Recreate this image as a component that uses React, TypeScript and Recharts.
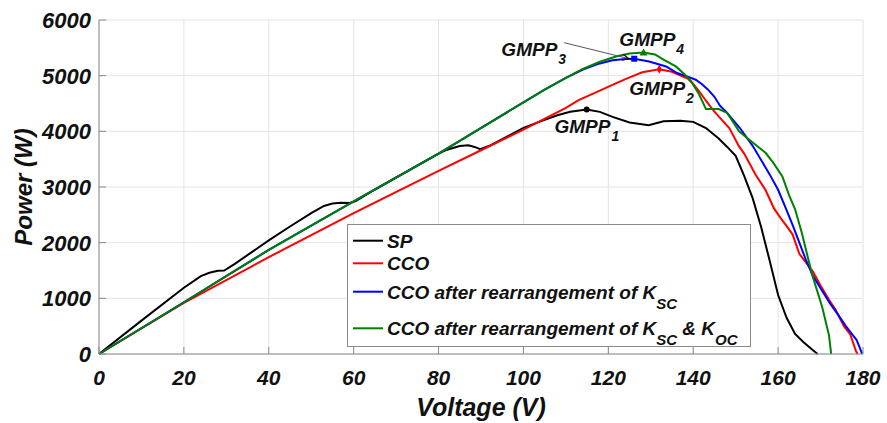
import React from 'react';
import { LineChart, Line, XAxis, YAxis, CartesianGrid, ReferenceDot, ReferenceLine, Legend } from 'recharts';

const xTicks = [0, 20, 40, 60, 80, 100, 120, 140, 160, 180];
const yTicks = [0, 1000, 2000, 3000, 4000, 5000, 6000];

// SP
const spV = [0, 10, 20, 24, 26, 28, 29.5, 32, 36, 40, 45, 50, 53, 55, 57, 59, 60.5, 65, 70, 75, 80, 82, 85, 87, 88.5, 89.8, 92, 96, 100, 104, 108, 111, 114.9, 118, 121, 125, 129.5, 133, 137, 140, 143, 146, 148, 150, 152, 154, 156, 158, 160, 162, 164, 166, 168, 169.3];
const spP = [0, 600, 1190, 1400, 1460, 1495, 1500, 1620, 1830, 2040, 2290, 2530, 2660, 2705, 2715, 2712, 2745, 2955, 3170, 3385, 3600, 3670, 3735, 3750, 3720, 3680, 3740, 3900, 4060, 4180, 4290, 4350, 4390, 4350, 4260, 4160, 4110, 4180, 4190, 4170, 4060, 3870, 3720, 3560, 3200, 2800, 2280, 1680, 1060, 650, 360, 210, 80, 0];

// CCO
const ccoV = [0, 20, 40, 60, 80, 90, 100, 110, 113, 118, 122, 125, 128, 132, 135, 137, 138.7, 140, 141.4, 143, 144.5, 146.1, 148.5, 150.8, 152, 154.7, 157, 159, 160.5, 161.8, 163.4, 165, 167.3, 168.2, 170, 172, 173.5, 175.5, 177, 178.3, 178.7];
const ccoP = [0, 920, 1740, 2530, 3290, 3660, 4030, 4420, 4560, 4730, 4870, 4970, 5060, 5115, 5070, 5000, 4950, 4850, 4720, 4550, 4400, 4260, 4060, 3730, 3600, 3220, 2950, 2620, 2450, 2320, 2150, 1800, 1570, 1480, 1230, 975, 800, 500, 350, 60, 0];

// CCO after rearrangement of Ksc
const kscV = [0, 20, 40, 60, 80, 100, 105, 110, 114, 118, 121, 124, 126.1, 129.6, 133.6, 136.2, 138, 140.6, 142, 143.5, 145, 146.3, 148, 149.2, 151, 154, 157.9, 160, 161.8, 163.5, 165, 166.5, 168.1, 170, 172.3, 174, 176, 177.5, 178.5, 179.3, 179.8];
const kscP = [0, 930, 1870, 2740, 3600, 4520, 4750, 4960, 5110, 5220, 5275, 5298, 5304, 5256, 5166, 5047, 5000, 4927, 4850, 4748, 4620, 4460, 4330, 4220, 4060, 3740, 3240, 2950, 2620, 2300, 2000, 1700, 1420, 1180, 900, 720, 496, 350, 250, 100, 0];

// CCO after rearrangement of Ksc & Koc
const kocV = [0, 20, 40, 60, 80, 100, 105, 110, 114, 118, 122, 125, 128.3, 131, 133, 135.9, 138, 139.5, 141.4, 143, 146, 148, 150.8, 153.2, 157.1, 159, 161, 162.6, 164, 165.5, 168, 170.4, 172, 172.5];
const kocP = [0, 930, 1870, 2740, 3600, 4520, 4750, 4960, 5120, 5250, 5350, 5400, 5418, 5380, 5290, 5166, 5020, 4900, 4660, 4400, 4400, 4330, 4000, 3850, 3610, 3420, 3190, 2850, 2600, 2200, 1430, 840, 330, 0];

// GMPP 1..4 (voltage, power)
const gmppV = [114.9, 132, 126.1, 128.3];
const gmppP = [4390, 5115, 5304, 5418];

const toPoints = (v: number[], p: number[]) => v.map((x, i) => ({ v: x, p: p[i] }));

const FONT = '"Liberation Sans", Arial, Helvetica, sans-serif';
const AXIS = '#8a8a8a';
const GRID = '#e4e4e4';
const INK = '#111';
const TICK_LEN = 7;

function BottomTick(props: any) {
  const { x, y, payload } = props;
  return (
    <g>
      <line x1={x} x2={x} y1={y} y2={y - TICK_LEN} stroke={AXIS} />
      <text x={x} y={y + 31} textAnchor="middle" fontFamily={FONT} fontSize={21} fontWeight="bold" fontStyle="italic" fill={INK}>
        {payload.value}
      </text>
    </g>
  );
}

function TopTick(props: any) {
  const { x, y } = props;
  return <line x1={x} x2={x} y1={y} y2={y + TICK_LEN} stroke={AXIS} />;
}

function LeftTick(props: any) {
  const { x, y, payload } = props;
  return (
    <g>
      <line x1={x} x2={x + TICK_LEN} y1={y} y2={y} stroke={AXIS} />
      <text x={x - 8} y={y + 8} textAnchor="end" fontFamily={FONT} fontSize={22} fontWeight="bold" fontStyle="italic" fill={INK}>
        {payload.value}
      </text>
    </g>
  );
}

function RightTick(props: any) {
  const { x, y } = props;
  return <line x1={x} x2={x - TICK_LEN} y1={y} y2={y} stroke={AXIS} />;
}

const GmppLabel = (n: string) => (p: any) => (
  <text x={p.cx} y={p.cy} fontFamily={FONT} fontSize={19} fontWeight="bold" fontStyle="italic" fill={INK}>
    <tspan>GMPP</tspan>
    <tspan dx={1} dy={8} fontSize={14}>{n}</tspan>
  </text>
);

const Arrow = (p: any) => {
  const { x1, y1, x2, y2 } = p;
  const a = Math.atan2(y2 - y1, x2 - x1);
  const h = 7;
  return (
    <g>
      <line x1={x1} y1={y1} x2={x2} y2={y2} stroke="#555" strokeWidth={1} />
      <polyline
        points={`${x2 - h * Math.cos(a - 0.45)},${y2 - h * Math.sin(a - 0.45)} ${x2},${y2} ${x2 - h * Math.cos(a + 0.45)},${y2 - h * Math.sin(a + 0.45)}`}
        fill="none"
        stroke="#111"
        strokeWidth={1.3}
      />
    </g>
  );
};

function LegendBox() {
  const t = { fontFamily: FONT, fontSize: 19, fontWeight: 'bold' as const, fontStyle: 'italic' as const, fill: INK };
  const rows = [
    { c: '#000000', y: 16.7 },
    { c: '#ff0000', y: 39.3 },
    { c: '#0000ff', y: 67.7 },
    { c: '#008000', y: 104.3 },
  ];
  return (
    <svg width={405} height={124} style={{ display: 'block' }}>
      <rect x={0.5} y={0.5} width={403} height={122} fill="#fff" stroke={AXIS} />
      {rows.map((r) => (
        <line key={r.c} x1={6} x2={36} y1={r.y} y2={r.y} stroke={r.c} strokeWidth={2} />
      ))}
      <text x={40} y={rows[0].y + 7} {...t}>SP</text>
      <text x={40} y={rows[1].y + 7} {...t}>CCO</text>
      <text x={40} y={rows[2].y + 7} {...t}>
        <tspan>CCO after rearrangement of K</tspan>
        <tspan dy={10} fontSize={15}>SC</tspan>
      </text>
      <text x={40} y={rows[3].y + 7} {...t}>
        <tspan>CCO after rearrangement of K</tspan>
        <tspan dy={10} fontSize={15}>SC</tspan>
        <tspan dy={-10}> &amp; K</tspan>
        <tspan dy={10} fontSize={15}>OC</tspan>
      </text>
    </svg>
  );
}

export default function App() {
  const marker = [
    (p: any) => <circle cx={p.cx} cy={p.cy} r={3} fill="#000" />,
    (p: any) => <polygon points={`${p.cx},${p.cy - 4.5} ${p.cx + 2.5},${p.cy} ${p.cx},${p.cy + 4.5} ${p.cx - 2.5},${p.cy}`} fill="#ff0000" />,
    (p: any) => <rect x={p.cx - 3} y={p.cy - 3} width={6} height={6} fill="#0000ff" />,
    (p: any) => <polygon points={`${p.cx},${p.cy - 4} ${p.cx + 4},${p.cy + 3} ${p.cx - 4},${p.cy + 3}`} fill="#008000" />,
  ];
  return (
    <div style={{ position: 'absolute', left: 0, top: 0, width: 887, height: 423, background: '#fff' }}>
      <LineChart width={887} height={423} margin={{ top: 20, right: 24, bottom: 0, left: 0 }}>
        <CartesianGrid stroke={GRID} strokeWidth={1} />
        <XAxis
          dataKey="v"
          type="number"
          domain={[0, 180]}
          ticks={xTicks}
          interval={0}
          height={69}
          tickSize={0}
          tickMargin={0}
          tickLine={false}
          axisLine={{ stroke: AXIS }}
          tick={(p: any) => <BottomTick {...p} />}
          label={{
            content: (lp: any) => {
              const vb = lp.viewBox;
              return (
                <text x={vb.x + vb.width / 2} y={vb.y + 62} textAnchor="middle" fontFamily={FONT} fontSize={25} fontWeight="bold" fontStyle="italic" fill={INK}>
                  Voltage (V)
                </text>
              );
            },
          }}
        />
        <XAxis
          xAxisId="top"
          orientation="top"
          type="number"
          domain={[0, 180]}
          ticks={xTicks}
          interval={0}
          height={0}
          tickSize={0}
          tickMargin={0}
          tickLine={false}
          axisLine={{ stroke: AXIS }}
          tick={(p: any) => <TopTick {...p} />}
        />
        <YAxis
          type="number"
          domain={[0, 6000]}
          ticks={yTicks}
          interval={0}
          width={99}
          tickSize={0}
          tickMargin={0}
          tickLine={false}
          axisLine={{ stroke: AXIS }}
          tick={(p: any) => <LeftTick {...p} />}
          label={{
            content: (lp: any) => {
              const vb = lp.viewBox;
              const cy = vb.y + vb.height / 2;
              return (
                <text transform={`translate(32, ${cy}) rotate(-90)`} textAnchor="middle" fontFamily={FONT} fontSize={24} fontWeight="bold" fontStyle="italic" fill={INK}>
                  Power (W)
                </text>
              );
            },
          }}
        />
        <YAxis
          yAxisId="right"
          orientation="right"
          type="number"
          domain={[0, 6000]}
          ticks={yTicks}
          interval={0}
          width={0}
          tickSize={0}
          tickMargin={0}
          tickLine={false}
          axisLine={{ stroke: AXIS }}
          tick={(p: any) => <RightTick {...p} />}
        />
        <Line data={toPoints(spV, spP)} dataKey="p" stroke="#000000" strokeWidth={2} dot={false} isAnimationActive={false} />
        <Line data={toPoints(ccoV, ccoP)} dataKey="p" stroke="#ff0000" strokeWidth={2} dot={false} isAnimationActive={false} />
        <Line data={toPoints(kscV, kscP)} dataKey="p" stroke="#0000ff" strokeWidth={2} dot={false} isAnimationActive={false} />
        <Line data={toPoints(kocV, kocP)} dataKey="p" stroke="#008000" strokeWidth={2} dot={false} isAnimationActive={false} />

        <ReferenceLine segment={[{ x: 109.6, y: 5592 }, { x: 124.8, y: 5306 }]} shape={Arrow} />

        {gmppV.map((v, i) => (
          <ReferenceDot key={'m' + i} x={v} y={gmppP[i]} shape={marker[i]} />
        ))}

        <ReferenceDot x={107.3} y={3970} shape={GmppLabel('1')} />
        <ReferenceDot x={124.9} y={4658} shape={GmppLabel('2')} />
        <ReferenceDot x={94.8} y={5346} shape={GmppLabel('3')} />
        <ReferenceDot x={122.6} y={5525} shape={GmppLabel('4')} />

        <Legend
          layout="horizontal"
          verticalAlign="middle"
          align="center"
          content={() => <LegendBox />}
          wrapperStyle={{ position: 'absolute', left: 347, top: 224, width: 405, height: 124 }}
        />
      </LineChart>
    </div>
  );
}
